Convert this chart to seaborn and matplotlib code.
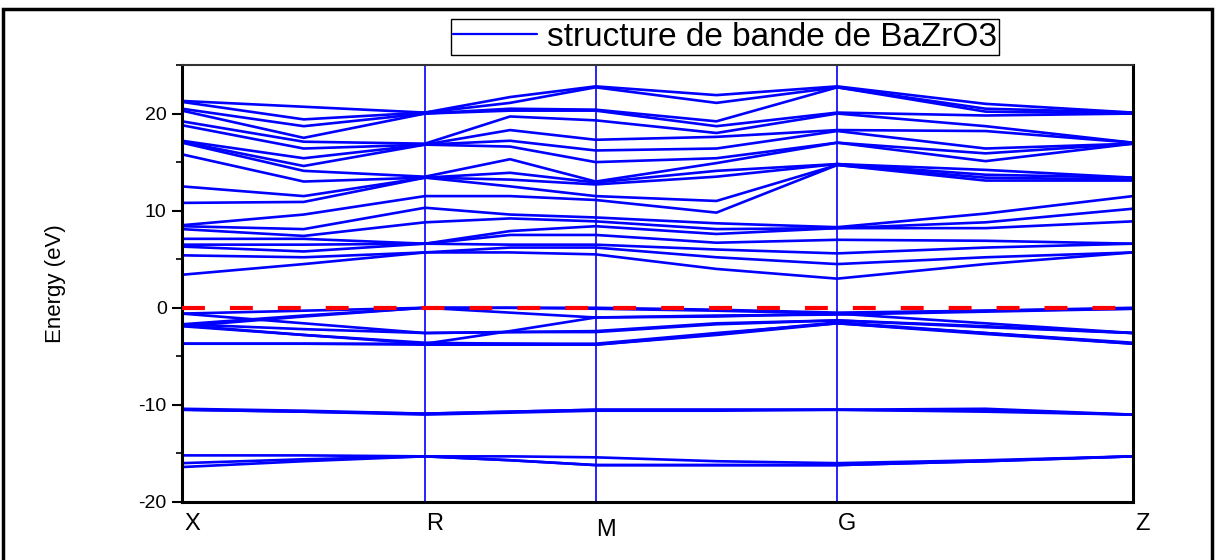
import numpy as np
import pandas as pd
import matplotlib
matplotlib.use("Agg")
import matplotlib.pyplot as plt
import matplotlib.transforms as mtransforms
from matplotlib.lines import Line2D
from matplotlib.patches import Rectangle
from matplotlib.ticker import MultipleLocator
import seaborn as sns

# ---------------- data ----------------
kpoint_labels = ["X", "R", "M", "G", "Z"]
kpoint_pos = [0.0, 0.2555, 0.435, 0.689, 1.0]

# sampled k nodes along the path (high-symmetry points and midpoints)
node_k = [0.0, 0.128, 0.2555, 0.345, 0.435, 0.562, 0.689, 0.845, 1.0]

# core bands (eV) at each node
core_X = [-15.2, -16.0, -16.4]
core_XR = [-15.2, -15.6, -15.8]
core_R = [-15.3, -15.3, -15.3]
core_RM = [-15.3, -15.7, -15.7]
core_M = [-15.4, -16.2, -16.2]
core_MG = [-15.8, -16.2, -16.2]
core_G = [-16.0, -16.2, -16.2]
core_GZ = [-15.7, -15.8, -15.8]
core_Z = [-15.3, -15.3, -15.3]

# semi-core bands
sc_X = [-10.4, -10.5, -10.5]
sc_XR = [-10.6, -10.7, -10.7]
sc_R = [-10.9, -10.9, -11.0]
sc_RM = [-10.7, -10.7, -10.8]
sc_M = [-10.5, -10.5, -10.6]
sc_MG = [-10.5, -10.5, -10.6]
sc_G = [-10.5, -10.5, -10.5]
sc_GZ = [-10.4, -10.6, -10.7]
sc_Z = [-11.0, -11.0, -11.0]

# valence bands
vb_X = [-0.6, -1.7, -1.9, -0.6, -1.7, -1.9, -1.8, -3.7, -3.7]
vb_XR = [-0.3, -0.8, -0.9, -1.6, -2.2, -2.8, -2.8, -3.7, -3.7]
vb_R = [0.0, 0.0, 0.0, -2.6, -2.6, -3.7, -3.6, -3.7, -3.8]
vb_RM = [0.0, 0.0, -0.5, -2.5, -2.5, -2.4, -3.7, -3.7, -3.8]
vb_M = [0.0, -0.1, -1.0, -2.4, -2.5, -1.0, -3.7, -3.8, -3.8]
vb_MG = [-0.2, -0.3, -0.8, -1.6, -1.7, -0.9, -2.6, -2.8, -2.7]
vb_G = [-0.5, -0.6, -0.7, -1.3, -1.3, -0.6, -1.6, -1.6, -1.5]
vb_GZ = [-0.3, -0.3, -0.4, -1.9, -2.0, -1.6, -2.6, -2.7, -2.6]
vb_Z = [0.0, -0.1, -0.1, -2.6, -2.6, -2.6, -3.6, -3.7, -3.7]

# conduction bands
cb_X = [3.4, 5.4, 6.3, 6.5, 7.1, 8.1, 8.4, 8.5, 10.8, 12.5, 15.8, 17.0, 17.1, 17.2, 18.8, 19.2, 20.3, 20.5, 21.2, 21.3]
cb_XR = [4.5, 5.2, 5.8, 6.5, 7.1, 7.4, 8.1, 9.6, 10.9, 11.5, 13.0, 14.1, 14.6, 15.4, 16.4, 17.1, 17.5, 18.7, 19.4, 20.7]
cb_R = [5.7, 5.7, 6.6, 6.6, 6.6, 8.8, 10.3, 11.5, 13.4, 13.4, 13.4, 13.5, 16.8, 16.8, 16.8, 16.9, 20.0, 20.0, 20.1, 20.1]
cb_RM = [5.7, 6.2, 6.5, 7.5, 7.9, 9.2, 9.6, 11.5, 12.5, 13.2, 13.9, 15.3, 16.6, 17.2, 18.3, 19.7, 20.3, 20.5, 21.1, 21.7]
cb_M = [5.5, 6.2, 6.5, 7.5, 8.4, 8.9, 9.3, 11.1, 11.5, 12.7, 12.9, 13.0, 15.0, 16.2, 17.3, 19.3, 20.3, 20.4, 22.7, 22.8]
cb_MG = [4.0, 5.2, 6.0, 6.7, 7.6, 8.1, 8.7, 9.8, 11.0, 13.5, 14.1, 14.9, 15.4, 16.4, 17.6, 18.0, 18.7, 19.2, 21.1, 21.9]
cb_G = [3.0, 4.5, 5.6, 7.0, 8.2, 8.2, 8.3, 14.7, 14.7, 14.8, 14.8, 17.0, 17.0, 18.2, 18.3, 20.0, 20.1, 22.7, 22.7, 22.8]
cb_GZ = [4.5, 5.2, 6.2, 6.9, 8.2, 8.8, 9.7, 13.1, 13.4, 13.7, 14.2, 15.1, 15.9, 16.4, 18.2, 18.7, 19.8, 20.2, 20.5, 21.0]
cb_Z = [5.7, 5.7, 6.6, 6.6, 8.9, 10.2, 11.5, 13.1, 13.2, 13.4, 13.4, 16.9, 16.9, 16.9, 17.0, 17.0, 20.0, 20.0, 20.1, 20.1]

fermi_level = 0.0
legend_label = "structure de bande de BaZrO3"

groups = {
    "core": [core_X, core_XR, core_R, core_RM, core_M, core_MG, core_G, core_GZ, core_Z],
    "sc": [sc_X, sc_XR, sc_R, sc_RM, sc_M, sc_MG, sc_G, sc_GZ, sc_Z],
    "vb": [vb_X, vb_XR, vb_R, vb_RM, vb_M, vb_MG, vb_G, vb_GZ, vb_Z],
    "cb": [cb_X, cb_XR, cb_R, cb_RM, cb_M, cb_MG, cb_G, cb_GZ, cb_Z],
}

rows = []
for gname, nodes in groups.items():
    nb = len(nodes[0])
    for b in range(nb):
        for k, vals in zip(node_k, nodes):
            rows.append({"band": f"{gname}{b}", "k": k, "E": vals[b]})
df = pd.DataFrame(rows)

# ---------------- plot ----------------
sns.set_theme(style="white")
plt.rcParams['font.family'] = ['Liberation Sans', 'DejaVu Sans']
plt.rcParams['axes.unicode_minus'] = False
plt.rcParams['text.color'] = 'black'
plt.rcParams['axes.labelcolor'] = 'black'
plt.rcParams['ytick.color'] = 'black'
plt.rcParams['xtick.color'] = 'black'

BLUE = "#0000FF"
fig = plt.figure(figsize=(12.15, 5.6), dpi=100)
ax = fig.add_axes([182 / 1215, 1 - 502 / 560, (1133 - 182) / 1215, (502 - 65) / 560])

sns.lineplot(data=df, x="k", y="E", units="band", estimator=None, sort=False,
             color=BLUE, lw=1.9, ax=ax, legend=False)

for k in kpoint_pos[1:-1]:
    ax.axvline(k, color=BLUE, lw=1.2, zorder=1)

ax.axhline(fermi_level, color="#FF0000", lw=3, ls=(0, (5.5, 6.0)), zorder=5)

ax.set_xlim(kpoint_pos[0], kpoint_pos[-1])
ax.set_ylim(-20, 25)
ax.set_yticks([-20, -10, 0, 10, 20])
ax.yaxis.set_minor_locator(MultipleLocator(5))
ax.set_xticks([])
ax.set_xlabel("")
ax.set_ylabel("Energy (eV)", fontsize=16, labelpad=52, color="black")
ax.tick_params(axis='y', which='major', direction='out', length=7, width=1.5,
               labelsize=14, left=True, color='black', labelcolor='black', pad=4)
ax.tick_params(axis='y', which='minor', direction='out', length=4, width=1.2, left=True, color='black')

for side in ["left", "bottom", "right"]:
    ax.spines[side].set_color("black")
    ax.spines[side].set_linewidth(2.2)
ax.spines["top"].set_color("#333333")
ax.spines["top"].set_linewidth(1.5)

trans = mtransforms.blended_transform_factory(ax.transData, ax.transAxes)
offset = mtransforms.ScaledTranslation(10 / 100, 0, fig.dpi_scale_trans)
for lab, k in zip(kpoint_labels, kpoint_pos):
    yy = -0.05 if lab != "M" else -0.065
    ax.text(k, yy, lab, transform=trans + offset, ha="center", va="center",
            fontsize=17, color="black")

handle = Line2D([], [], color=BLUE, lw=1.6)
leg = fig.legend(handles=[handle], labels=[legend_label], loc="center",
                 bbox_to_anchor=(725 / 1215, 1 - 37 / 560), frameon=True, fancybox=False,
                 edgecolor="black", fontsize=24, handlelength=2.5, handletextpad=0.3,
                 borderpad=0.08, borderaxespad=0, framealpha=1)
leg.get_frame().set_linewidth(1.0)
for t in leg.get_texts():
    t.set_color("black")

fig.patches.append(Rectangle((3 / 1215, -0.05), (1212 - 3) / 1215, 1 - 9 / 560 + 0.05,
                             fill=False, lw=2.5, ec="black", transform=fig.transFigure,
                             figure=fig))

fig.savefig("out.png", dpi=100)
